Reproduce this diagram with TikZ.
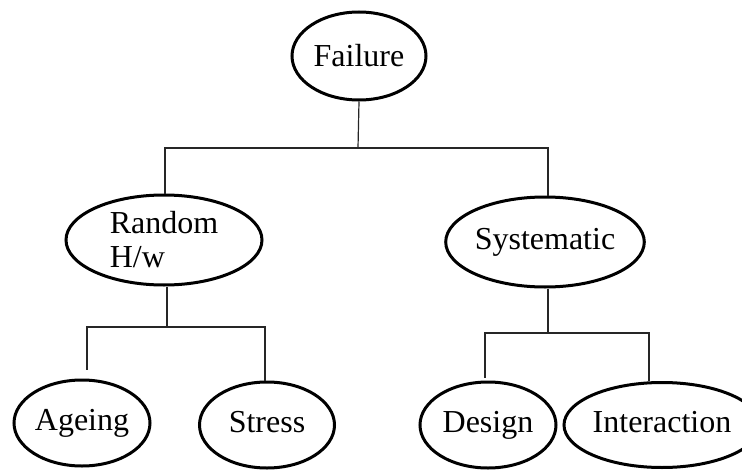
\documentclass[tikz,border=0pt]{standalone}
\usepackage{fontspec}
\setmainfont{Liberation Serif}
\usetikzlibrary{shapes.geometric}

\tikzset{
  cls/.style={ellipse, draw, line width=3pt, inner sep=0pt, font=\fontsize{32}{34}\selectfont},
  leaf/.style={cls, text height=21pt, text depth=7pt},
  link/.style={line width=1.2pt, black!85}
}

\begin{document}
\begin{tikzpicture}[x=1pt, y=-1pt]
    \useasboundingbox (0,0) rectangle (742,471);
    % top level
    \node[cls, minimum width=134pt, minimum height=88pt] (fail) at (359,56) {Failure};
    % second level
    \node[cls, minimum width=196pt, minimum height=90pt, align=left] (rand) at (164,240) {Random\\H/w};
    \node[cls, minimum width=176pt, minimum height=90pt] (sys) at (545,242) {Systematic};
    % leaves
    \node[leaf, minimum width=136pt, minimum height=86pt] (age) at (82,423) {Ageing};
    \node[leaf, minimum width=135pt, minimum height=86pt] (str) at (267,425) {Stress};
    \node[leaf, minimum width=136pt, minimum height=86pt] (des) at (488,425) {Design};
    \node[leaf, minimum width=154pt, minimum height=85pt] (inter) at (662,425) {Interaction};
    % junctions of the tree lines
    \coordinate (j0) at (358,148);
    \coordinate (j1) at (167,327);
    \coordinate (j2) at (548,333);
    \draw[link] (fail.south) -- (j0);
    \draw[link] ([xshift=1pt]rand.north) |- (j0) -| ([xshift=3pt]sys.north);
    \draw[link] ([xshift=3pt]rand.south) -- (j1);
    \draw[link, shorten >=9pt] (j1) -| ([xshift=5pt]age.north);
    \draw[link] (j1) -| ([xshift=-2pt]str.north);
    \draw[link] ([xshift=3pt]sys.south) -- (j2);
    \draw[link, shorten >=3pt] (j2) -| ([xshift=-3pt]des.north);
    \draw[link] (j2) -| ([xshift=-13pt]inter.north);
\end{tikzpicture}
\end{document}
